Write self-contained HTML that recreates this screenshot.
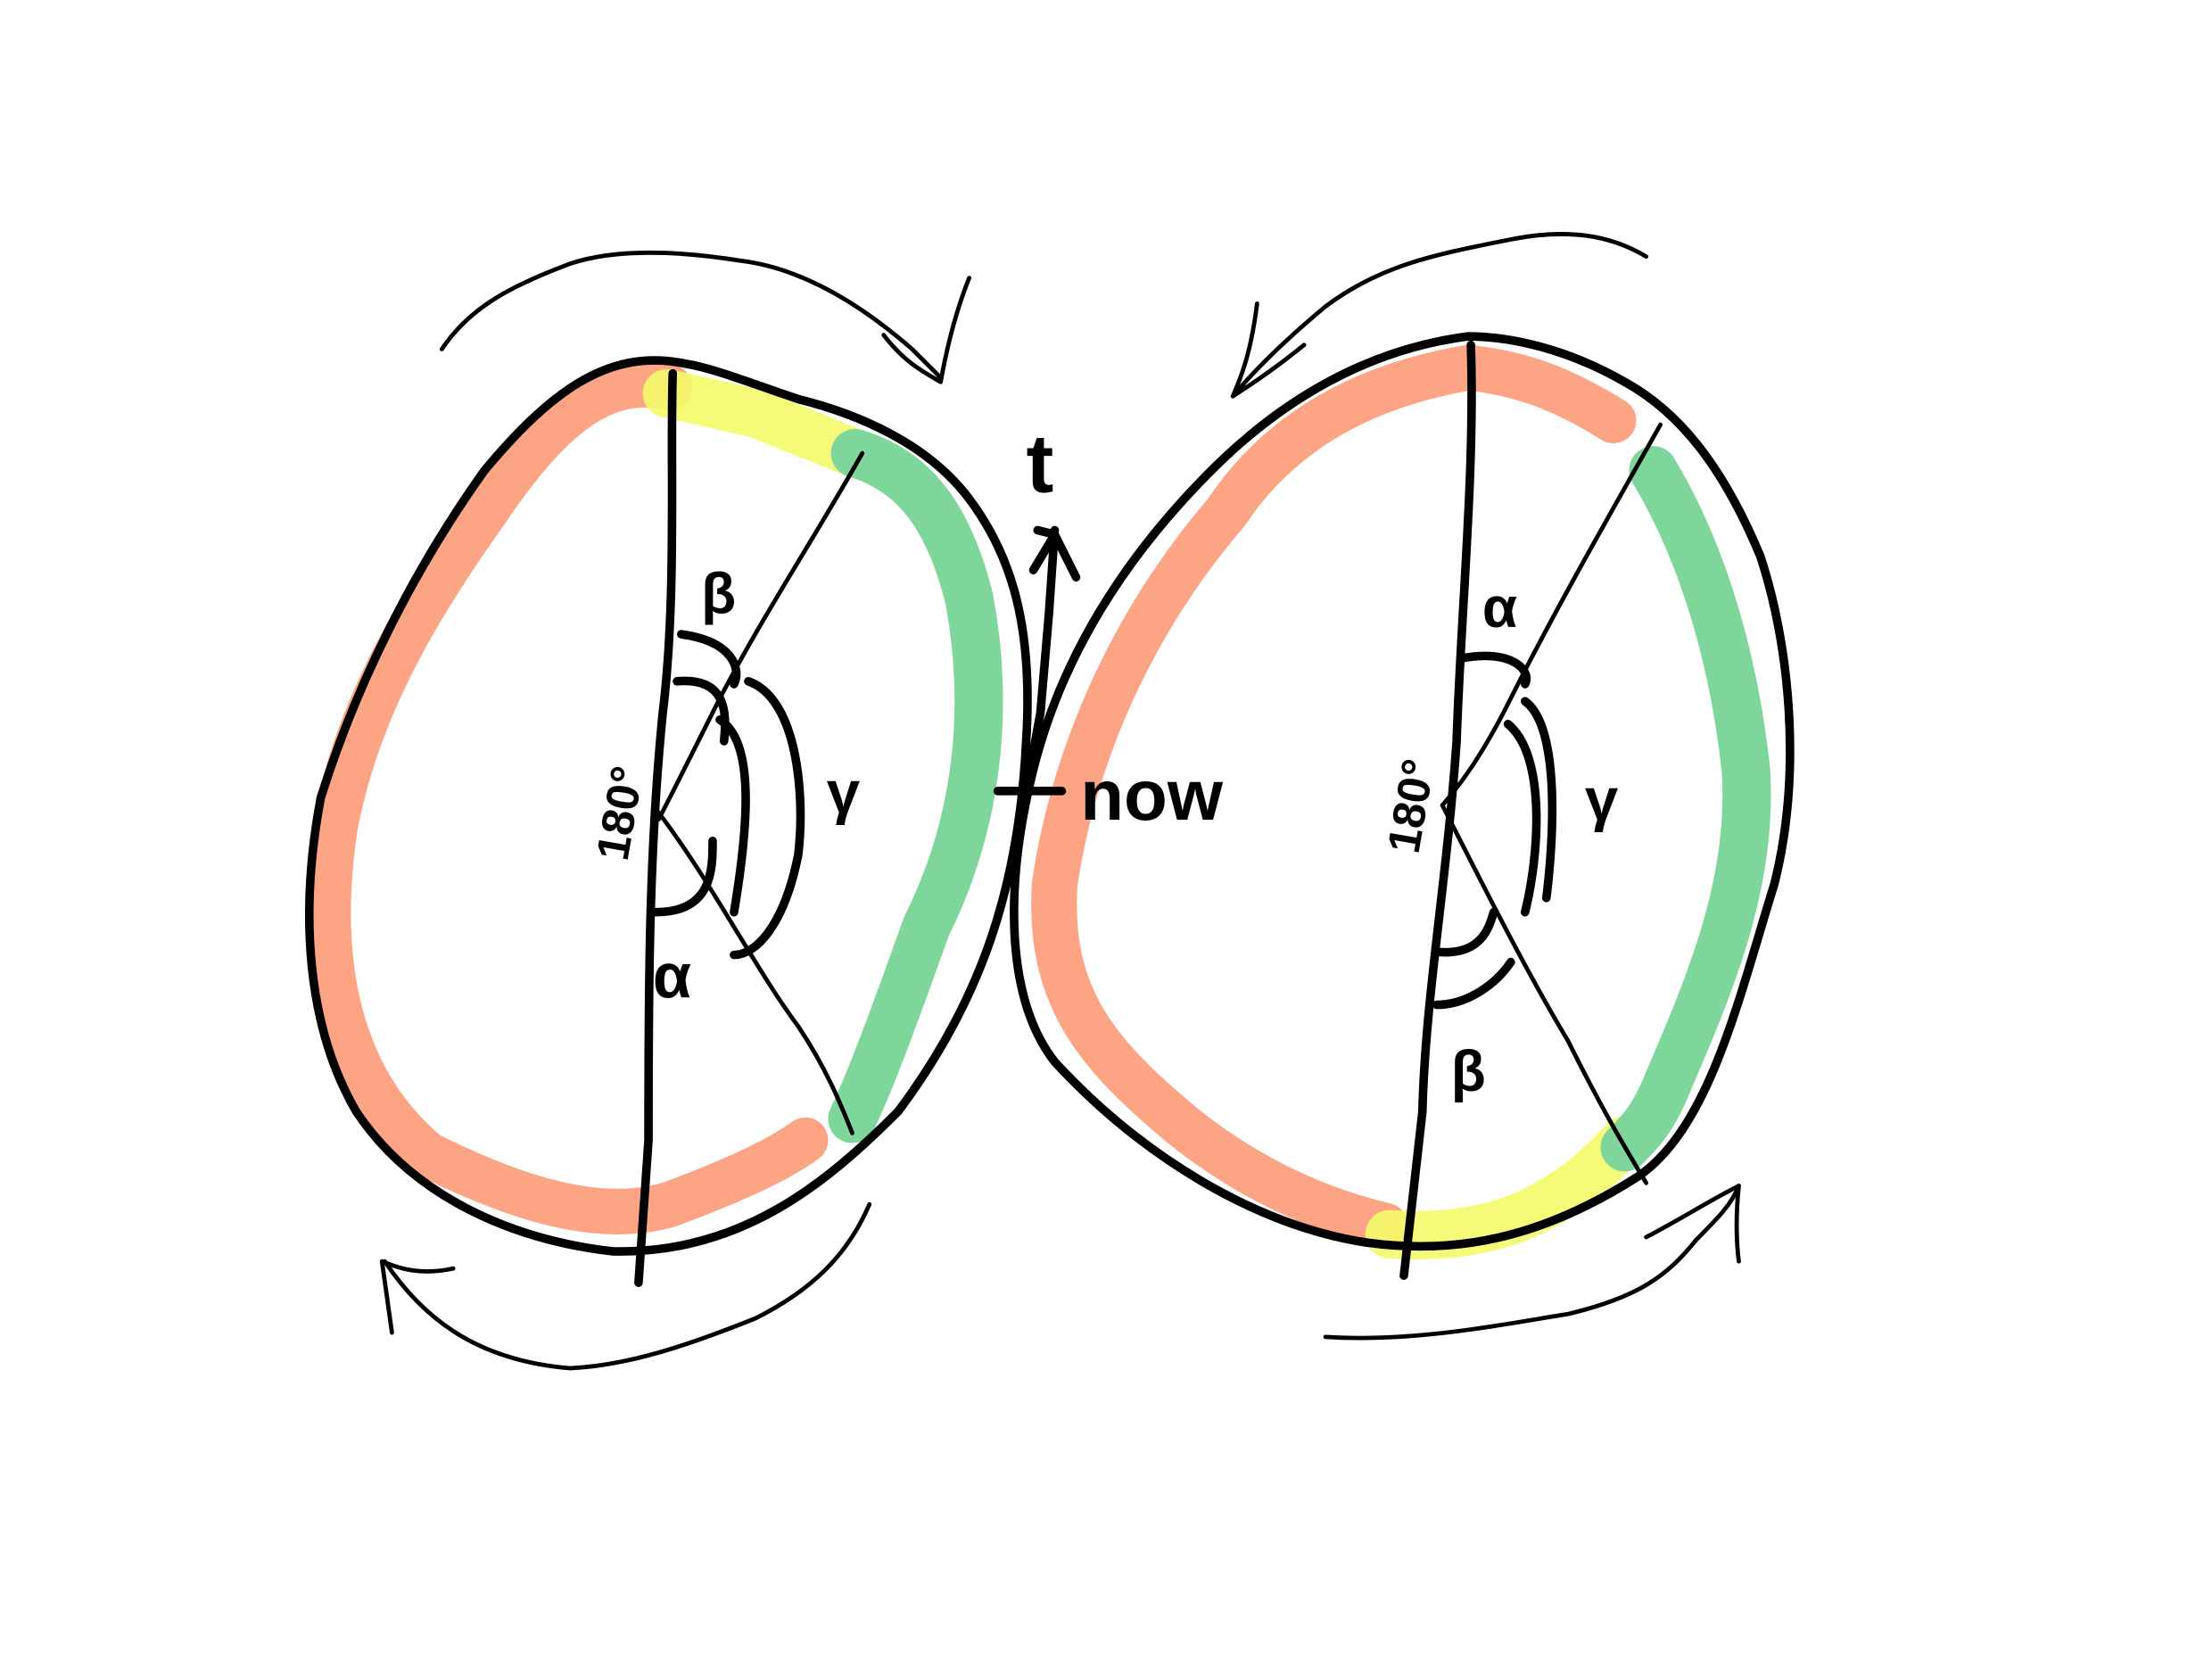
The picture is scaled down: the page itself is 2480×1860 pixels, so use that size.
<!DOCTYPE html>
<html><head><meta charset="utf-8"><style>
html,body{margin:0;padding:0;background:#fff;width:2480px;height:1860px;overflow:hidden}
svg{display:block}
text{font-family:"Liberation Sans",sans-serif;font-weight:bold;fill:#000}
</style></head><body>
<svg width="2480" height="1860" viewBox="0 0 1552 1164" xmlns="http://www.w3.org/2000/svg">
<rect width="1552" height="1164" fill="#fff"/>
<g fill="none" stroke-linecap="round" stroke-linejoin="round">
<!-- highlights left -->
<path d="M470,272 C420,260 380,300 340,360 C290,430 250,500 235,580 C220,680 240,760 300,810 C360,840 420,860 470,845 C510,830 545,815 565,800" stroke="#fc9f7d" stroke-width="32" opacity="0.95"/>
<path d="M468,276 L530,290 L600,318" stroke="#f4fb6a" stroke-width="34" opacity="0.9"/>
<path d="M600,318 C640,330 665,360 680,420 C695,500 685,580 650,650 C625,720 610,760 598,785" stroke="#7fd69b" stroke-width="34"/>
<!-- highlights right -->
<path d="M1132,295 C1100,275 1070,262 1030,258 C960,270 900,300 860,360 C800,430 755,520 740,620 C735,700 770,740 830,790 C880,830 930,850 972,860" stroke="#fc9f7d" stroke-width="32" opacity="0.95"/>
<path d="M975,866 C1040,870 1090,855 1140,800" stroke="#f4fb6a" stroke-width="34" opacity="0.9"/>
<path d="M1160,330 C1190,380 1215,450 1225,540 C1230,620 1200,690 1170,760 C1160,785 1150,795 1140,805" stroke="#7fd69b" stroke-width="34"/>
<!-- outlines -->
<g stroke="#000" stroke-width="6">
<path d="M480,255 C430,245 390,270 340,330 C290,400 250,480 225,560 C210,640 215,720 250,780 C290,840 360,870 430,878 C520,880 580,830 630,780 C690,700 715,620 720,520 C725,440 710,390 680,350 C650,310 600,290 560,280 C530,270 500,258 480,255 Z"/>
<path d="M1030,236 C960,245 900,280 850,330 C790,390 745,460 725,540 C705,620 705,700 740,745 C800,810 880,860 960,872 C1020,880 1080,870 1150,825 C1200,790 1220,700 1245,620 C1265,540 1255,450 1235,390 C1210,330 1180,290 1140,268 C1100,245 1060,236 1030,236 Z"/>
<path d="M472,262 C470,320 475,420 465,500 C455,600 455,700 455,800 L448,900"/>
<path d="M1032,242 C1035,330 1025,430 1022,520 C1015,620 1000,700 998,780 L985,895"/>
<path d="M740,372 L736,430 L730,500 L720,555" />
<path d="M728,372 L740,375 L755,405 M740,375 L725,400"/>
<path d="M700,555 L745,555"/>
<path d="M475,478 C510,475 510,500 508,520 M478,445 C515,450 520,470 515,480 M460,640 C500,640 500,610 500,590 M505,505 C530,520 525,580 515,640 M525,478 C560,490 565,560 560,600 C550,650 530,670 515,670"/>
<path d="M1025,462 C1060,455 1075,470 1070,480 M1010,668 C1040,670 1045,650 1048,640 M1008,705 C1030,705 1050,690 1060,675 M1058,508 C1085,530 1080,600 1070,640 M1070,492 C1095,510 1090,590 1085,630"/>
</g>
<g stroke="#000" stroke-width="3">
<path d="M605,318 C570,380 530,440 500,500 C480,540 470,560 462,575"/>
<path d="M462,570 C500,620 530,680 560,720 C580,750 590,775 598,795"/>
<path d="M1165,298 C1130,360 1090,430 1060,490 C1040,530 1025,550 1012,565"/>
<path d="M1012,565 C1040,620 1070,680 1100,730 C1125,780 1140,805 1155,830"/>
<path d="M310,245 C330,215 360,200 400,185 C430,175 470,175 520,183 C560,188 600,210 640,245 L660,265"/>
<path d="M620,235 C635,255 650,262 660,268 C665,240 672,215 680,195"/>
<path d="M610,845 C595,880 570,905 530,925 C480,945 440,958 400,960 C340,955 300,930 270,885"/>
<path d="M318,890 C295,895 280,890 268,885 L275,935"/>
<path d="M1155,180 C1130,165 1100,160 1060,168 C1010,178 970,185 930,215 C900,240 880,260 865,278"/>
<path d="M882,213 C878,245 872,262 865,278 C890,262 905,250 915,242"/>
<path d="M930,938 C990,942 1050,930 1100,922 C1150,910 1170,895 1190,870 C1205,855 1215,845 1220,832"/>
<path d="M1155,868 C1180,855 1200,842 1220,832 C1218,850 1218,870 1220,885"/>
</g>
</g>
<text x="720" y="345" font-size="58">t</text>
<text x="758" y="575" font-size="50">now</text>
<text x="492" y="430" font-size="40">β</text>
<text x="580" y="570" font-size="42">γ</text>
<text x="458" y="700" font-size="44">α</text>
<text x="1040" y="440" font-size="40">α</text>
<text x="1112" y="575" font-size="42">γ</text>
<text x="1018" y="765" font-size="40">β</text>
<text transform="translate(440,605) rotate(-80)" font-size="32">180°</text>
<text transform="translate(995,600) rotate(-80)" font-size="32">180°</text>
</svg>
</body></html>
